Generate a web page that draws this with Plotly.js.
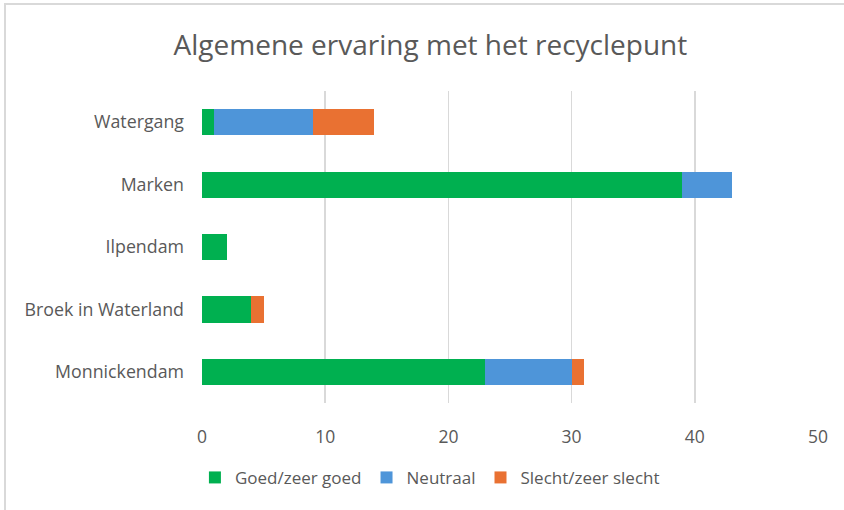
<!DOCTYPE html>
<html>
<head>
<meta charset="utf-8">
<script src="https://cdn.plot.ly/plotly-3.0.1.min.js"></script>
<style>
html,body{margin:0;padding:0;background:#fff;}
#wrap{position:relative;width:844px;height:510px;overflow:hidden;}
#chart{width:844px;height:510px;}
#frame{position:absolute;left:4px;top:3px;width:900px;height:600px;border-top:2px solid #d9d9d9;border-left:2px solid #d9d9d9;pointer-events:none;}
</style>
</head>
<body>
<div id="wrap"><div id="chart"></div><div id="frame"></div></div>
<script>
const categories = ["Monnickendam", "Broek in Waterland", "Ilpendam", "Marken", "Watergang"];
const goed = [23, 4, 2, 39, 1];
const neutraal = [7, 0, 0, 4, 8];
const slecht = [1, 1, 0, 0, 5];
const seriesNames = ["Goed/zeer goed", "Neutraal", "Slecht/zeer slecht"];
const colors = ["#00B050", "#4E95D9", "#E97132"];
const xTicks = [0, 10, 20, 30, 40, 50];

const font = "Open Sans, Noto Sans, sans-serif";
const data = [goed, neutraal, slecht].map((vals, i) => ({
  type: "bar",
  orientation: "h",
  y: categories,
  x: vals,
  name: seriesNames[i],
  marker: {color: colors[i], line: {width: 0}},
  hoverinfo: "x+name"
}));

const layout = {
  width: 844, height: 510,
  barmode: "stack",
  bargap: 0.58,
  paper_bgcolor: "#fff", plot_bgcolor: "#fff",
  margin: {l: 202, r: 26, t: 91, b: 107},
  title: {text: "Algemene ervaring met het recyclepunt", x: 0.51, xanchor: "center", y: 0.912, yanchor: "middle",
          font: {family: font, size: 28, color: "#595959"}},
  xaxis: {range: [0, 50], tickvals: xTicks, ticktext: xTicks.map(String), showgrid: true, gridcolor: "#d9d9d9", gridwidth: 1.5,
          zeroline: false, showline: false, ticks: "", ticklabelstandoff: 21,
          tickfont: {family: font, size: 17.5, color: "#595959"}, fixedrange: true},
  yaxis: {showgrid: false, zeroline: false, showline: false, ticks: "", ticklabelstandoff: 17,
          tickfont: {family: font, size: 17.8, color: "#595959"}, fixedrange: true},
  legend: {orientation: "h", x: 0.37, xanchor: "center", y: -0.24, yanchor: "middle",
           font: {family: font, size: 17, color: "#595959"}, itemwidth: 30, traceorder: "normal"},
  showlegend: true
};
Plotly.newPlot("chart", data, layout, {displayModeBar: false, staticPlot: true});
</script>
</body>
</html>
